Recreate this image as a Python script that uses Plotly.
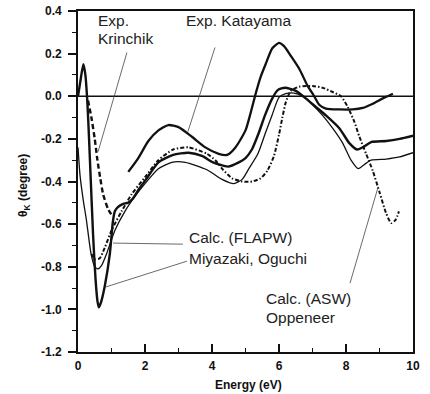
import plotly.graph_objects as go

# ---------------- data ----------------
flapw_thick_x = [0.0, 0.08, 0.16, 0.22, 0.28, 0.33, 0.38, 0.45, 0.52, 0.58, 0.62, 0.68, 0.8, 0.95,
                 1.04, 1.1, 1.19, 1.35, 1.49, 1.64, 1.8, 2.03, 2.4, 2.84, 3.3, 3.7, 4.03, 4.48, 4.8,
                 5.0, 5.19, 5.4, 5.58, 5.8, 5.97, 6.18, 6.5, 6.8, 7.1, 7.4, 7.8, 8.1, 8.33, 8.55,
                 8.75, 9.2, 9.6, 10.0]
flapw_thick_y = [0.0, 0.08, 0.15, 0.10, -0.03, -0.2, -0.39, -0.65, -0.85, -0.96, -0.99, -0.97, -0.89,
                 -0.74, -0.59, -0.54, -0.52, -0.505, -0.50, -0.48, -0.44, -0.39, -0.31, -0.275, -0.265,
                 -0.28, -0.31, -0.33, -0.31, -0.29, -0.25, -0.17, -0.09, -0.01, 0.03, 0.04, 0.025,
                 -0.01, -0.05, -0.09, -0.15, -0.22, -0.25, -0.235, -0.215, -0.21, -0.2, -0.185]

flapw_thin_x = [0.0, 0.06, 0.15, 0.25, 0.39, 0.5, 0.6, 0.7, 0.85, 1.1, 1.4, 1.7, 2.0, 2.4, 2.8, 3.2,
                3.85, 4.3, 4.65, 4.9, 5.1, 5.37, 5.6, 5.79, 6.0, 6.2, 6.45, 6.7, 7.0, 7.3, 7.6, 7.9,
                8.15, 8.37, 8.55, 8.75, 9.2, 9.6, 10.0]
flapw_thin_y = [-0.24, -0.37, -0.48, -0.58, -0.74, -0.80, -0.81, -0.795, -0.74, -0.63, -0.54, -0.47,
                -0.41, -0.34, -0.31, -0.31, -0.345, -0.39, -0.41, -0.39, -0.34, -0.27, -0.17, -0.09,
                -0.005, 0.012, 0.015, 0.0, -0.04, -0.09, -0.15, -0.22, -0.30, -0.34, -0.32, -0.30,
                -0.295, -0.285, -0.265]

katayama_x = [1.5, 1.8, 2.1, 2.4, 2.7, 3.0, 3.4, 3.8, 4.2, 4.45, 4.7, 5.0, 5.15, 5.3, 5.45, 5.6,
              5.8, 6.0, 6.15, 6.35, 6.6, 6.85, 7.05, 7.2, 7.4, 7.8, 8.2, 8.5, 8.8, 9.1, 9.4]
katayama_y = [-0.355, -0.29, -0.21, -0.16, -0.135, -0.145, -0.19, -0.24, -0.27, -0.275, -0.24,
              -0.16, -0.08, 0.01, 0.09, 0.15, 0.225, 0.25, 0.235, 0.19, 0.13, 0.05, 0.0, -0.04,
              -0.058, -0.062, -0.062, -0.055, -0.035, -0.01, 0.012]

krinchik_x = [0.3, 0.4, 0.5, 0.58, 0.66, 0.75, 0.9, 1.04]
krinchik_y = [-0.02, -0.1, -0.2, -0.3, -0.38, -0.46, -0.53, -0.565]

asw_x = [0.4, 0.5, 0.65, 0.8, 1.0, 1.3, 1.6, 2.0, 2.4, 2.84, 3.3, 3.85, 4.1, 4.33, 4.6, 4.9, 5.2,
         5.45, 5.65, 5.85, 6.0, 6.1, 6.2, 6.35, 6.6, 7.0, 7.3, 7.6, 7.85, 8.05, 8.25, 8.4, 8.6,
         8.8, 9.0, 9.2, 9.35, 9.48, 9.58]
asw_y = [-0.74, -0.765, -0.76, -0.71, -0.63, -0.54, -0.46, -0.38, -0.30, -0.25, -0.24, -0.27,
         -0.30, -0.345, -0.385, -0.40, -0.40, -0.385, -0.35, -0.28, -0.18, -0.10, -0.03, 0.025,
         0.045, 0.048, 0.04, 0.02, 0.0, -0.05, -0.12, -0.19, -0.27, -0.35, -0.45, -0.55, -0.595,
         -0.58, -0.54]

x_tickvals = [0, 2, 4, 6, 8, 10]
x_ticktext = ["0", "2", "4", "6", "8", "10"]
y_tickvals = [0.4, 0.2, 0.0, -0.2, -0.4, -0.6, -0.8, -1.0, -1.2]
y_ticktext = ["0.4", "0.2", "0.0", "-0.2", "-0.4", "-0.6", "-0.8", "-1.0", "-1.2"]

# ---------------- figure ----------------
FONT = "Liberation Sans, Arial, sans-serif"
INK = "#111111"

fig = go.Figure()

# zero line
fig.add_trace(go.Scatter(x=[0, 10], y=[0, 0], mode="lines",
                         line=dict(color=INK, width=1.5), showlegend=False, hoverinfo="skip"))

def curve(x, y, width, dash="solid", smooth=0.6):
    fig.add_trace(go.Scatter(x=x, y=y, mode="lines",
                             line=dict(color=INK, width=width, dash=dash,
                                       shape="spline", smoothing=smooth),
                             showlegend=False))

curve(flapw_thin_x, flapw_thin_y, 1.3)
curve(asw_x, asw_y, 2.0, dash="4px,2px,1.5px,2px")
curve(krinchik_x, krinchik_y, 2.4, dash="5px,3px")
curve(katayama_x, katayama_y, 2.3)
curve(flapw_thick_x, flapw_thick_y, 2.4)

# leader lines
leaders = [((1.46, 0.205), (0.6, -0.26)),
           ((4.09, 0.229), (3.28, -0.166)),
           ((3.13, -0.694), (1.045, -0.689)),
           ((3.25, -0.774), (0.806, -0.896)),
           ((8.12, -0.877), (8.96, -0.425))]
shapes = [dict(type="line", xref="x", yref="y", x0=a[0], y0=a[1], x1=b[0], y1=b[1],
               line=dict(color="#444444", width=0.8)) for a, b in leaders]

labels = [("Exp.", 0.55, 0.356), ("Krinchik", 0.55, 0.272),
          ("Exp. Katayama", 3.17, 0.356),
          ("Calc. (FLAPW)", 3.26, -0.665), ("Miyazaki, Oguchi", 3.26, -0.759),
          ("Calc. (ASW)", 5.56, -0.947), ("Oppeneer", 5.56, -1.037)]
annotations = [dict(text=t, x=x, y=y, xref="x", yref="y", xanchor="left", yanchor="middle",
                    showarrow=False, font=dict(family=FONT, size=15.5, color="#222222"))
               for t, x, y in labels]
# axis titles
annotations.append(dict(text="θ<sub>K</sub> (degree)", x=-0.161, y=0.487, xref="paper", yref="paper",
                        textangle=-90, showarrow=False, xanchor="center", yanchor="middle",
                        font=dict(family=FONT, size=12, color=INK, weight="bold")))
annotations.append(dict(text="Energy (eV)", x=0.51, y=-0.097, xref="paper", yref="paper",
                        showarrow=False, xanchor="center", yanchor="middle",
                        font=dict(family=FONT, size=12, color=INK, weight="bold")))

fig.update_layout(
    width=430, height=394,
    margin=dict(l=78, r=17, t=11, b=42, autoexpand=False),
    paper_bgcolor="white", plot_bgcolor="white",
    shapes=shapes, annotations=annotations,
    font=dict(family=FONT, color=INK),
    xaxis=dict(range=[0, 10], tickmode="array", tickvals=x_tickvals, ticktext=x_ticktext,
               ticks="inside", ticklen=8, tickwidth=1.5, tickcolor=INK,
               minor=dict(dtick=1, tick0=0, ticks="inside", ticklen=4, tickwidth=1.2, tickcolor=INK),
               showline=True, linecolor=INK, linewidth=1.8, mirror=True, automargin=False,
               showgrid=False, zeroline=False, ticklabelstandoff=2, ticklabeloverflow="allow",
               tickfont=dict(family=FONT, size=12, color=INK, weight="bold")),
    yaxis=dict(range=[-1.2, 0.4], tickmode="array", tickvals=y_tickvals, ticktext=y_ticktext,
               ticks="outside", ticklen=8, tickwidth=1.5, tickcolor=INK,
               minor=dict(dtick=0.1, tick0=0, ticks="outside", ticklen=4, tickwidth=1.2, tickcolor=INK),
               showline=True, linecolor=INK, linewidth=1.8, mirror=True, automargin=False,
               showgrid=False, zeroline=False, ticklabelstandoff=4, ticklabeloverflow="allow",
               tickfont=dict(family=FONT, size=12, color=INK, weight="bold")),
)

# remove the default 8px page margin so the 430x394 figure fills the window exactly
fig.write_html("out.html", config={"displayModeBar": False},
               post_script="document.body.style.margin='0';document.body.style.overflow='hidden';")
